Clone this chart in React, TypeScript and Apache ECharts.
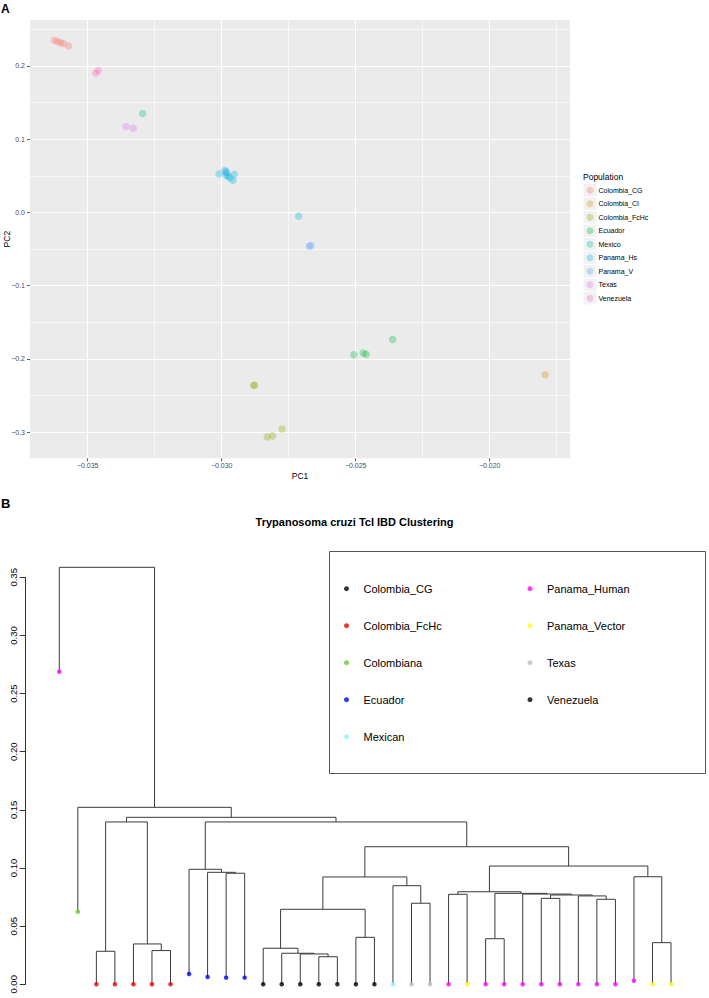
import { useEffect, useRef } from 'react';
import * as echarts from 'echarts';

const FONT = '"Liberation Sans", Arial, Helvetica, sans-serif';

// ---------------- Panel A: PCA ----------------
const pcaGroups = ['Colombia_CG', 'Colombia_CI', 'Colombia_FcHc', 'Ecuador', 'Mexico', 'Panama_Hs', 'Panama_V', 'Texas', 'Venezuela'];
const pcaColors = ['#F8766D', '#D39200', '#93AA00', '#00BA38', '#00C19F', '#00B9E3', '#619CFF', '#DB72FB', '#FF61C3'];

const colombiaCG = [[-0.03625, 0.2351], [-0.03613, 0.2333], [-0.03601, 0.2319], [-0.03591, 0.2306], [-0.03572, 0.2273]];
const colombiaCI = [[-0.01793, -0.2216]];
const colombiaFcHc = [[-0.0288, -0.236], [-0.02878, -0.2358], [-0.0283, -0.3065], [-0.0281, -0.305], [-0.02775, -0.2956]];
const ecuador = [[-0.02507, -0.1943], [-0.02472, -0.192], [-0.02461, -0.1937], [-0.02362, -0.1733]];
const mexico = [[-0.03295, 0.1351]];
const panamaHs = [[-0.0301, 0.0527], [-0.02988, 0.0577], [-0.02982, 0.0546], [-0.02976, 0.0495], [-0.02969, 0.0472], [-0.02958, 0.0441], [-0.02953, 0.0523], [-0.02984, 0.0509], [-0.02713, -0.005]];
const panamaV = [[-0.02985, 0.0555], [-0.02673, -0.046], [-0.02667, -0.045]];
const texas = [[-0.03357, 0.1173], [-0.0333, 0.115]];
const venezuela = [[-0.0347, 0.1905], [-0.0346, 0.1937]];
const pcaPoints = [colombiaCG, colombiaCI, colombiaFcHc, ecuador, mexico, panamaHs, panamaV, texas, venezuela];

const pcaXTicks = [-0.035, -0.03, -0.025, -0.02];
const pcaXMinor = [-0.0325, -0.0275, -0.0225, -0.0175];
const pcaYTicks = [-0.3, -0.2, -0.1, 0, 0.1, 0.2];
const pcaYMinor = [-0.25, -0.15, -0.05, 0.05, 0.15, 0.25];

// ---------------- Panel B: dendrogram ----------------
const dendroGroups = ['Colombia_CG', 'Colombia_FcHc', 'Colombiana', 'Ecuador', 'Mexican', 'Panama_Human', 'Panama_Vector', 'Texas', 'Venezuela'];
const dendroColors = ['#000000', '#EE0000', '#66CC22', '#0000FF', '#88F4FF', '#FF00FF', '#FFFF00', '#BEBEBE', '#000000'];

const leafGroups = [
  'Panama_Human', 'Colombiana',
  'Colombia_FcHc', 'Colombia_FcHc', 'Colombia_FcHc', 'Colombia_FcHc', 'Colombia_FcHc',
  'Ecuador', 'Ecuador', 'Ecuador', 'Ecuador',
  'Colombia_CG', 'Colombia_CG', 'Colombia_CG', 'Colombia_CG', 'Colombia_CG', 'Venezuela', 'Venezuela',
  'Mexican', 'Texas', 'Texas', 'Panama_Human', 'Panama_Vector',
  'Panama_Human', 'Panama_Human', 'Panama_Human', 'Panama_Human', 'Panama_Human', 'Panama_Human', 'Panama_Human', 'Panama_Human',
  'Panama_Human', 'Panama_Vector', 'Panama_Vector',
];
const leafHeights = [
  0.2688, 0.0624,
  0, 0, 0, 0, 0,
  0.0089, 0.0063, 0.0057, 0.0057,
  0, 0, 0, 0, 0, 0, 0,
  0, 0, 0, 0, 0,
  0, 0, 0, 0, 0, 0, 0, 0,
  0.0031, 0, 0,
];
// [left, right, height]; negative = leaf number, positive = earlier merge row (1-based)
const merges: [number, number, number][] = [
  [-6, -7, 0.029],
  [-5, 1, 0.0347],
  [-3, -4, 0.0284],
  [3, 2, 0.1396],
  [-10, -11, 0.0955],
  [-9, 5, 0.0963],
  [-8, 6, 0.0989],
  [-15, -16, 0.0237],
  [-14, 8, 0.0261],
  [-13, 9, 0.0267],
  [-12, 10, 0.031],
  [-17, -18, 0.0404],
  [11, 12, 0.0645],
  [-20, -21, 0.0697],
  [-19, 14, 0.0848],
  [13, 15, 0.0923],
  [-22, -23, 0.0774],
  [-24, -25, 0.0392],
  [-27, -28, 0.0739],
  [-30, -31, 0.0731],
  [-29, 20, 0.076],
  [19, 21, 0.0768],
  [-26, 22, 0.0776],
  [18, 23, 0.0782],
  [17, 24, 0.0796],
  [-33, -34, 0.0358],
  [-32, 26, 0.0925],
  [25, 27, 0.1017],
  [16, 28, 0.1183],
  [7, 29, 0.1396],
  [4, 30, 0.1436],
  [-2, 31, 0.1522],
  [-1, 32, 0.3586],
];

// axis extents (layout)
const PCA_X = [-0.037153, -0.017004];
const PCA_Y = [-0.3356, 0.2628];

function rgba(hex: string, a: number) {
  const n = parseInt(hex.slice(1), 16);
  return `rgba(${(n >> 16) & 255},${(n >> 8) & 255},${n & 255},${a})`;
}
const minus = (v: number, d: number) => (v < -1e-12 ? '\u2212' : '') + Math.abs(v).toFixed(d);

function buildDendroSegments() {
  const pos: number[] = [];
  const hts: number[] = [];
  const segs: { coords: number[][] }[] = [];
  const gx = (r: number) => (r < 0 ? -r : pos[r - 1]);
  const gh = (r: number) => (r < 0 ? leafHeights[-r - 1] : hts[r - 1]);
  merges.forEach(([a, b, h]) => {
    const xa = gx(a);
    const xb = gx(b);
    segs.push({ coords: [[xa, gh(a)], [xa, h], [xb, h], [xb, gh(b)]] });
    pos.push((xa + xb) / 2);
    hts.push(h);
  });
  return segs;
}

export default function App() {
  const ref = useRef<HTMLDivElement>(null);
  useEffect(() => {
    if (!ref.current) return;
    const chart = echarts.init(ref.current, undefined, { renderer: 'svg' });

    const minorStyle = { color: '#FFFFFF', width: 0.6, opacity: 1, type: 'solid' };
    const majorStyle = { color: '#FFFFFF', width: 1.1, opacity: 1, type: 'solid' };
    const gridSeries = {
      type: 'lines',
      name: '__grid',
      coordinateSystem: 'cartesian2d',
      xAxisIndex: 0,
      yAxisIndex: 0,
      z: 1,
      silent: true,
      lineStyle: { opacity: 1 },
      data: [
        ...pcaXMinor.map((v) => ({ coords: [[v, PCA_Y[0]], [v, PCA_Y[1]]], lineStyle: minorStyle })),
        ...pcaYMinor.map((v) => ({ coords: [[PCA_X[0], v], [PCA_X[1], v]], lineStyle: minorStyle })),
        ...pcaXTicks.map((v) => ({ coords: [[v, PCA_Y[0]], [v, PCA_Y[1]]], lineStyle: majorStyle })),
        ...pcaYTicks.map((v) => ({ coords: [[PCA_X[0], v], [PCA_X[1], v]], lineStyle: majorStyle })),
      ],
    };

    const pcaSeries = pcaGroups.map((g, i) => ({
      type: 'scatter',
      name: g,
      xAxisIndex: 0,
      yAxisIndex: 0,
      z: 3,
      symbol: 'circle',
      symbolSize: 7.5,
      itemStyle: { color: rgba(pcaColors[i], 0.4) },
      data: pcaPoints[i],
      silent: true,
    }));

    const dendroLines = {
      type: 'lines',
      name: '__tree',
      coordinateSystem: 'cartesian2d',
      xAxisIndex: 1,
      yAxisIndex: 1,
      polyline: true,
      silent: true,
      clip: false,
      z: 2,
      lineStyle: { color: '#3a3a3a', width: 1, opacity: 1 },
      data: buildDendroSegments(),
    };

    const dendroPoints = dendroGroups.map((g, gi) => ({
      type: 'scatter',
      name: 'B|' + g,
      xAxisIndex: 1,
      yAxisIndex: 1,
      z: 4,
      clip: false,
      symbol: 'circle',
      symbolSize: 4.5,
      itemStyle: { color: dendroColors[gi] },
      silent: true,
      data: leafGroups
        .map((lg, i) => (lg === g ? [i + 1, leafHeights[i]] : null))
        .filter((d) => d !== null),
    }));

    const option: any = {
      animation: false,
      backgroundColor: '#FFFFFF',
      textStyle: { fontFamily: FONT },
      title: [
        { text: 'A', left: 1, top: 3, padding: 0, textStyle: { fontSize: 12, fontWeight: 'bold', color: '#000', fontFamily: FONT } },
        { text: 'B', left: 1, top: 497, padding: 0, textStyle: { fontSize: 13, fontWeight: 'bold', color: '#000', fontFamily: FONT } },
        { text: 'Population', left: 583, top: 172, padding: 0, textStyle: { fontSize: 8.5, fontWeight: 'normal', color: '#000', fontFamily: FONT } },
        { text: 'Trypanosoma cruzi TcI IBD Clustering', left: 'center', top: 516, padding: 0, textStyle: { fontSize: 11, fontWeight: 'bold', color: '#000', fontFamily: FONT } },
      ],
      grid: [
        { left: 30, top: 20, width: 540, height: 438.3, show: true, backgroundColor: '#EBEBEB', borderWidth: 0, outerBoundsMode: 'none' },
        { left: 25.7, top: 577.3, width: 654.6, height: 407, show: false, outerBoundsMode: 'none' },
      ],
      xAxis: [
        {
          type: 'value',
          gridIndex: 0,
          min: PCA_X[0],
          max: PCA_X[1],
          position: 'bottom',
          axisLine: { show: false, onZero: false },
          splitLine: { show: false },
          axisTick: { show: true, customValues: pcaXTicks, length: 3, lineStyle: { color: '#333333', width: 0.8 } },
          axisLabel: { customValues: pcaXTicks, formatter: (v: number) => minus(v, 3), fontSize: 7, color: '#4D4D4D', margin: 4, fontFamily: FONT },
          name: 'PC1',
          nameLocation: 'middle',
          nameGap: 13,
          nameMoveOverlap: false,
          nameTextStyle: { fontSize: 8.5, color: '#000', fontFamily: FONT },
        },
        {
          type: 'value',
          gridIndex: 1,
          min: -0.812,
          max: 34.5,
          show: false,
          axisLine: { onZero: false },
        },
      ],
      yAxis: [
        {
          type: 'value',
          gridIndex: 0,
          min: PCA_Y[0],
          max: PCA_Y[1],
          position: 'left',
          axisLine: { show: false, onZero: false },
          splitLine: { show: false },
          axisTick: { show: true, customValues: pcaYTicks, length: 3, lineStyle: { color: '#333333', width: 0.8 } },
          axisLabel: { customValues: pcaYTicks, formatter: (v: number) => minus(v, 1), fontSize: 7, color: '#4D4D4D', margin: 5, fontFamily: FONT },
          name: 'PC2',
          nameLocation: 'middle',
          nameGap: 19,
          nameMoveOverlap: false,
          nameTextStyle: { fontSize: 8.5, color: '#000', fontFamily: FONT },
        },
        {
          type: 'value',
          gridIndex: 1,
          min: 0,
          max: 0.35,
          interval: 0.05,
          position: 'left',
          axisLine: { show: true, onZero: false, lineStyle: { color: '#333', width: 1 } },
          axisTick: { show: true, length: 6, lineStyle: { color: '#333', width: 1 } },
          splitLine: { show: false },
          axisLabel: { rotate: 90, formatter: (v: number) => v.toFixed(2), fontSize: 9.5, color: '#000', margin: 7, fontFamily: FONT },
        },
      ],
      legend: [
        {
          data: pcaGroups,
          orient: 'vertical',
          left: 586.5,
          top: 183.5,
          itemWidth: 7,
          itemHeight: 7,
          itemGap: 0,
          padding: 0,
          icon: 'circle',
          selectedMode: false,
          textStyle: { fontSize: 7, lineHeight: 13.5, color: '#000', fontFamily: FONT },
        },
        {
          data: dendroGroups.slice(0, 5).map((g) => 'B|' + g),
          formatter: (n: string) => n.slice(2),
          orient: 'vertical',
          left: 344,
          top: 581.7,
          itemWidth: 24,
          itemHeight: 5,
          itemGap: 23,
          padding: 0,
          icon: 'circle',
          selectedMode: false,
          textStyle: { fontSize: 11, lineHeight: 14, color: '#000', fontFamily: FONT },
        },
        {
          data: dendroGroups.slice(5).map((g) => 'B|' + g),
          formatter: (n: string) => n.slice(2),
          orient: 'vertical',
          left: 527.5,
          top: 581.7,
          itemWidth: 24,
          itemHeight: 5,
          itemGap: 23,
          padding: 0,
          icon: 'circle',
          selectedMode: false,
          textStyle: { fontSize: 11, lineHeight: 14, color: '#000', fontFamily: FONT },
        },
      ],
      graphic: [
        ...pcaGroups.map((g, i) => ({
          type: 'rect',
          z: 1,
          silent: true,
          shape: { x: 583.5, y: 183.5 + i * 13.5 + 0.5, width: 13, height: 12.5 },
          style: { fill: '#F2F2F2' },
        })),
        {
          type: 'rect',
          z: 1,
          silent: true,
          shape: { x: 329.5, y: 551.5, width: 376, height: 222 },
          style: { fill: 'none', stroke: '#555', lineWidth: 1 },
        },
      ],
      series: [gridSeries, ...pcaSeries, dendroLines, ...dendroPoints],
    };

    chart.setOption(option);
    return () => chart.dispose();
  }, []);

  return <div ref={ref} style={{ position: 'fixed', left: 0, top: 0, width: 709, height: 998 }} />;
}
